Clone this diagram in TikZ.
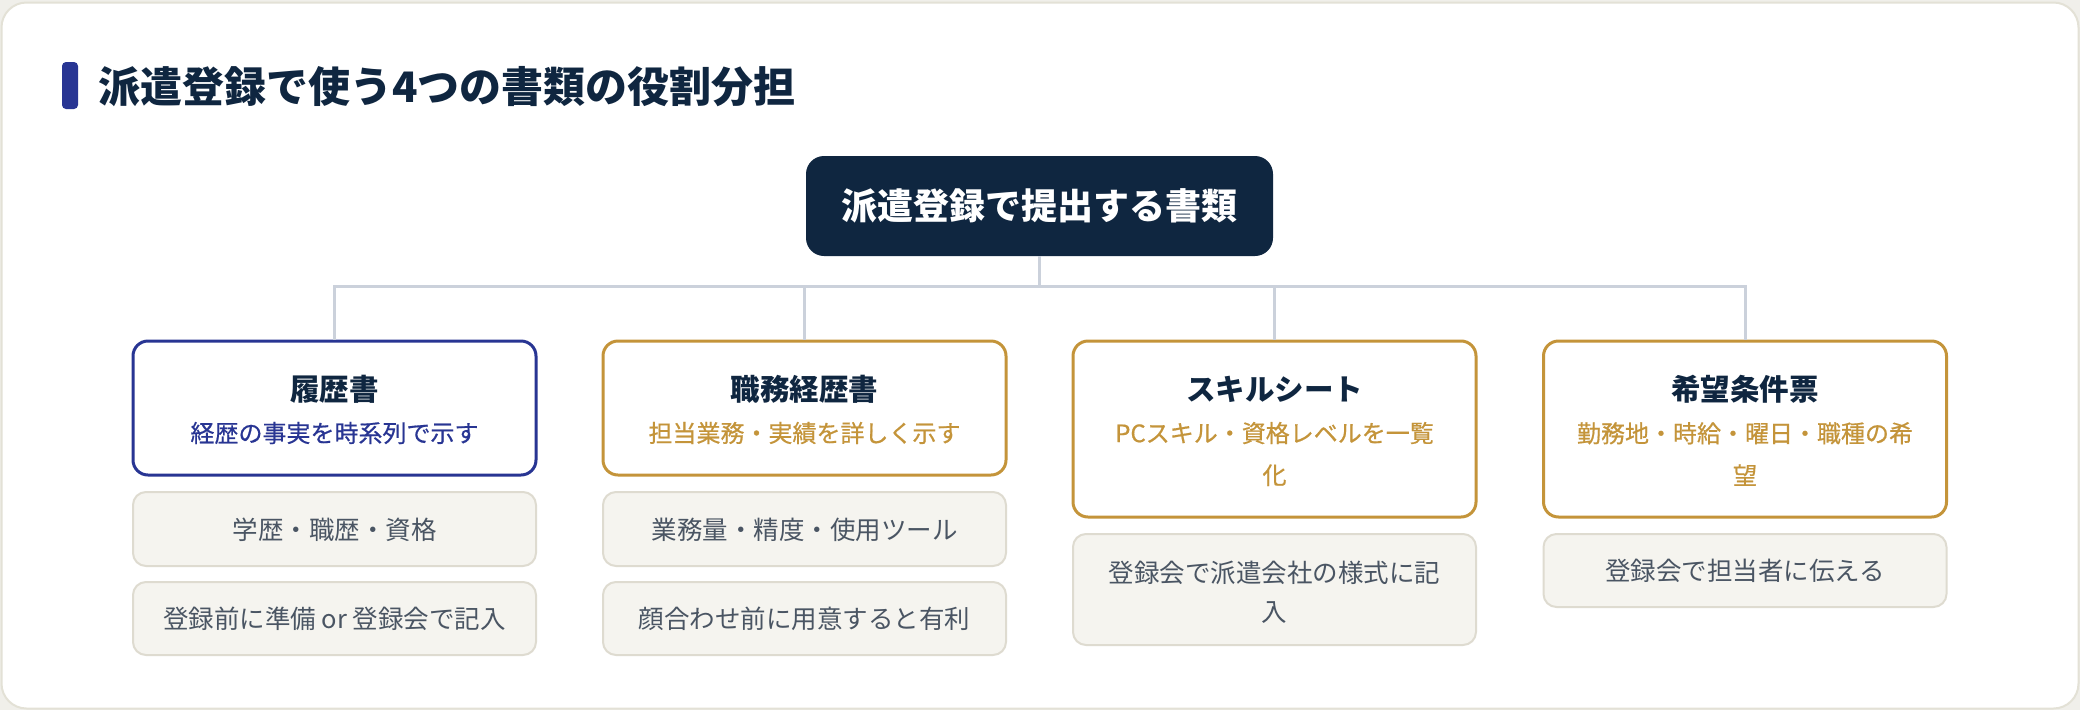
\documentclass[tikz,border=0pt]{standalone}
\usepackage{fontspec}
\setmainfont{Noto Sans CJK JP}
\newfontfamily\medfont{Noto Sans CJK JP}[FakeBold=0.6]
\definecolor{navy}{HTML}{283593}
\definecolor{gold}{HTML}{C4943A}
\definecolor{ink}{HTML}{0F2640}
\definecolor{slate}{HTML}{4A5563}
\definecolor{subfill}{HTML}{F5F4EF}
\definecolor{subline}{HTML}{DEDBD0}
\definecolor{frameline}{HTML}{E3E1D6}
\definecolor{connc}{HTML}{CBD1DB}
\definecolor{outside}{HTML}{F0EFEA}
\tikzset{
  mainbox/.style={draw=#1, line width=3pt, fill=white, rounded corners=15pt, minimum width=403pt, inner sep=0pt},
  subbox/.style={draw=subline, line width=2pt, fill=subfill, rounded corners=13pt, minimum width=403pt, inner sep=0pt},
  boxtitle/.style={text=ink, font=\bfseries\fontsize{29.5}{36}\selectfont, inner sep=0pt},
  boxsub/.style={text=#1, font=\medfont\fontsize{24}{42}\selectfont, align=center, inner sep=0pt},
  subtext/.style={text=slate, font=\fontsize{25.5}{39}\selectfont, align=center, inner sep=0pt},
  conn/.style={draw=connc, line width=3pt},
}
\begin{document}
\begin{tikzpicture}[x=1pt,y=-1pt]
\useasboundingbox (0,0) rectangle (2080,710);
\fill[outside] (0,0) rectangle (2080,710);
\draw[frameline, line width=2pt, fill=white, rounded corners=25pt] (1.5,2.5) rectangle (2078.5,708.5);
% title
\fill[navy, rounded corners=4pt] (62,62) rectangle (78,109);
\node[anchor=west, inner sep=0pt, text=ink, font=\bfseries\fontsize{42}{50}\selectfont] (title) at (98,87) {派遣登録で使う4つの書類の役割分担};
% root
\node[fill=ink, rounded corners=18pt, minimum width=467pt, minimum height=100pt, inner sep=0pt, text=white, font=\bfseries\fontsize{36}{44}\selectfont] (root) at (1039.5,206) {派遣登録で提出する書類};
% main boxes
\node[mainbox=navy, minimum height=134pt] (b1) at (334.5,408) {};
\node[mainbox=gold, minimum height=134pt] (b2) at (804.5,408) {};
\node[mainbox=gold, minimum height=176pt] (b3) at (1274.5,429) {};
\node[mainbox=gold, minimum height=176pt] (b4) at (1745,429) {};
\node[boxtitle] (t1) at (334.5,389) {履歴書};
\node[boxtitle] (t2) at (804.5,389) {職務経歴書};
\node[boxtitle] (t3) at (1274.5,389) {スキルシート};
\node[boxtitle] (t4) at (1745,389) {希望条件票};
\node[boxsub=navy] (s1) at (334.5,433) {経歴の事実を時系列で示す};
\node[boxsub=gold] (s2) at (804.5,433) {担当業務・実績を詳しく示す};
\node[boxsub=gold] (s3) at (1274.5,454) {PCスキル・資格レベルを一覧\\化};
\node[boxsub=gold] (s4) at (1745,454) {勤務地・時給・曜日・職種の希\\望};
% sub boxes
\node[subbox, minimum height=74pt] (d11) at (334.5,529) {};
\node[subbox, minimum height=73pt] (d12) at (334.5,618.5) {};
\node[subbox, minimum height=74pt] (d21) at (804.5,529) {};
\node[subbox, minimum height=73pt] (d22) at (804.5,618.5) {};
\node[subbox, minimum height=111pt] (d31) at (1274.5,589.5) {};
\node[subbox, minimum height=73pt] (d41) at (1745,570.5) {};
\node[subtext] (e11) at (334.5,530) {学歴・職歴・資格};
\node[subtext] (e12) at (334.5,619) {登録前に準備 or 登録会で記入};
\node[subtext] (e21) at (804.5,530) {業務量・精度・使用ツール};
\node[subtext] (e22) at (804.5,619) {顔合わせ前に用意すると有利};
\node[subtext] (e31) at (1274.5,592.5) {登録会で派遣会社の様式に記\\入};
\node[subtext] (e41) at (1745,571) {登録会で担当者に伝える};
% connectors
\coordinate (bus) at (1039.5,286);
\draw[conn] (root.south) -- (bus);
\draw[conn] (b1.north) -- (b1.north |- bus) -- (b4.north |- bus) -- (b4.north);
\draw[conn] (b2.north) -- (b2.north |- bus);
\draw[conn] (b3.north) -- (b3.north |- bus);
\end{tikzpicture}
\end{document}
